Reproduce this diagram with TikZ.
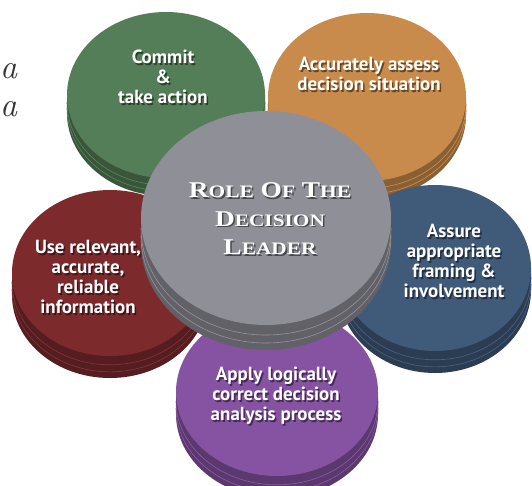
\documentclass[tikz,border=0pt]{standalone}
\usepackage{fontspec}
\setsansfont{PT Sans}
\newfontfamily\leaderfont{Liberation Serif}[FakeStretch=1.22]
\usepackage{tikz}
\usetikzlibrary{calc}

\definecolor{greendisk}{HTML}{547E57}
\definecolor{orangedisk}{HTML}{C98B4B}
\definecolor{reddisk}{HTML}{7D2A2D}
\definecolor{bluedisk}{HTML}{405A7A}
\definecolor{purpledisk}{HTML}{8553A1}
\definecolor{greydisk}{HTML}{8E8F97}

% puck: centre x, centre y, x radius, y radius, rim height, colour
\newcommand{\puck}[6]{%
  \fill[#6!68!black] (#1-#3,#2) -- ++(0,#5)
    arc[start angle=180,end angle=360,x radius=#3pt,y radius=#4pt]
    -- ++(0,-#5) -- cycle;
  \draw[rim,#6!95!white] (#1-#3,#2+0.72*#5)
    arc[start angle=180,end angle=360,x radius=#3pt,y radius=#4pt];
  \draw[rim,#6!95!white] (#1-#3,#2+0.4*#5)
    arc[start angle=180,end angle=360,x radius=#3pt,y radius=#4pt];
  \fill[#6] (#1,#2) ellipse[x radius=#3pt,y radius=#4pt];
}

% white text with a dark drop shadow
\newcommand{\pucklabel}[4][pucktext]{%
  \node[#1,text=black,text opacity=0.5] (#2shadow) at ($(#3)+(1.5,1.5)$) {#4};
  \node[#1] (#2) at (#3) {#4};
}

% fake small caps for the centre title
\newcommand{\scword}[2]{{\fontsize{22.5}{28.5}\selectfont #1}{\fontsize{17.5}{28.5}\selectfont #2}}

\begin{document}
\begin{tikzpicture}[
    x=1pt,y=-1pt,
    rim/.style={line width=0.6pt},
    pucktext/.style={text=white,align=center,inner sep=0pt,
      font=\sffamily\bfseries\fontsize{19}{20}\selectfont},
    leadertext/.style={text=white,align=center,inner sep=0pt,
      font=\leaderfont\bfseries\fontsize{22.5}{28.5}\selectfont},
    margintext/.style={anchor=base west,inner sep=0pt,text=black!80,
      font=\rmfamily\itshape\fontsize{34}{34}\selectfont}
  ]
    \fill[white] (0,0) rectangle (532,485);
    \useasboundingbox (0,0) rectangle (532,485);

    % text running in from the left margin
    \node[margintext] (marginone) at (0,78) {a};
    \node[margintext] (margintwo) at (0,116) {a};

    % outer pucks, back to front
    \puck{166}{95}{99}{83}{18}{greendisk}
    \pucklabel{commit}{163,77}{Commit\\\&\\take action}
    \puck{367}{97}{99}{84}{18}{orangedisk}
    \pucklabel{assess}{369,74}{Accurately assess\\decision situation}
    \puck{110}{273}{98}{83}{22}{reddisk}
    \pucklabel{information}{88,277}{Use relevant,\\accurate,\\reliable\\information}
    \puck{435}{268}{96}{83}{22}{bluedisk}
    \pucklabel{framing}{454,261}{Assure\\appropriate\\framing \&\\involvement}
    \puck{277}{392}{101}{84}{22}{purpledisk}
    \pucklabel{analysis}{276,396}{Apply logically\\correct decision\\analysis process}

    % centre puck
    \puck{266}{218}{125}{107}{25}{greydisk}
    \pucklabel[leadertext]{leader}{270,219}{\scword{R}{OLE} \scword{O}{F} \scword{T}{HE}\\
      \scword{D}{ECISION}\\\scword{L}{EADER}}
\end{tikzpicture}
\end{document}
